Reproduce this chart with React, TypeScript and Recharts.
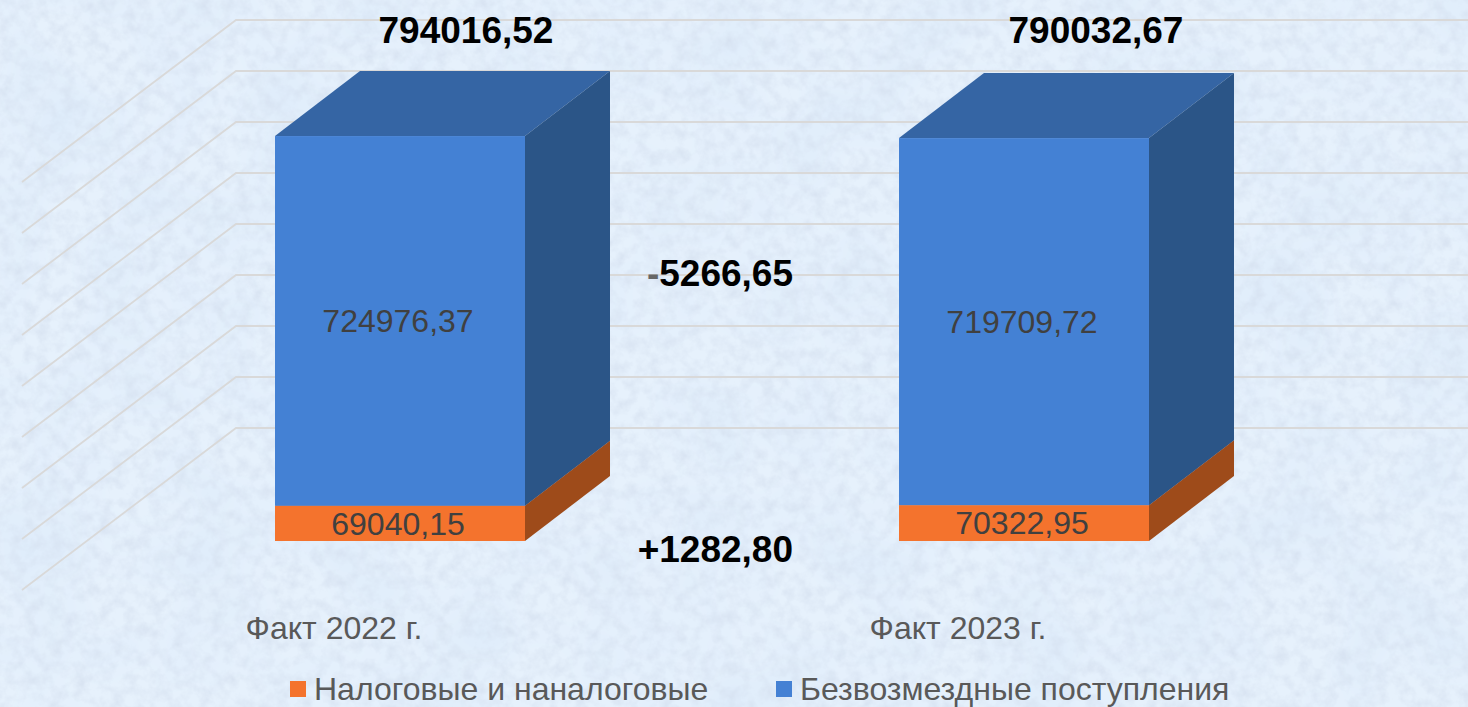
import { Bar, BarChart, CartesianGrid, Customized, LabelList, Legend, XAxis, YAxis } from 'recharts';

const categories = ['Факт 2022 г.', 'Факт 2023 г.'];
const taxRevenue = [69040.15, 70322.95];
const grants = [724976.37, 719709.72];
const totals = ['794016,52', '790032,67'];
const deltaGrants = '-5266,65';
const deltaTax = '+1282,80';
const yTicks = [0, 100000, 200000, 300000, 400000, 500000, 600000, 700000, 800000];
const seriesNames = ['Налоговые и наналоговые', 'Безвозмездные поступления'];

const rows = categories.map((name, i) => ({ name, tax: taxRevenue[i], grants: grants[i] }));

const W = 1468;
const H = 707;
const DEPTH_X = 85;
const DEPTH_Y = 65;

const fmt = (v: any) => Number(v).toFixed(2).replace('.', ',');

function box3d(front: string, top: string, side: string) {
  return (p: any) => {
    const { x, y, width, height } = p;
    const r = x + width;
    const b = y + height;
    return (
      <g>
        <polygon points={`${x},${y} ${x + DEPTH_X},${y - DEPTH_Y} ${r + DEPTH_X},${y - DEPTH_Y} ${r},${y}`} fill={top} />
        <polygon points={`${r},${y} ${r + DEPTH_X},${y - DEPTH_Y} ${r + DEPTH_X},${b - DEPTH_Y} ${r},${b}`} fill={side} />
        <rect x={x} y={y} width={width} height={height} fill={front} />
      </g>
    );
  };
}

// floor line + back wall line, taken from the grid's own tick position
function wallLine(p: any) {
  const y = p.y1;
  return (
    <polyline
      key={p.key ?? y}
      points={`22,${y + 49} 236,${y - 113} ${W},${y - 113}`}
      fill="none"
      stroke="#d9d9d9"
      strokeWidth={1.8}
    />
  );
}

function Notes() {
  const big = { fontSize: 37, fontWeight: 700, fill: '#000' };
  return (
    <g>
      <text x={466} y={43} textAnchor="middle" {...big}>{totals[0]}</text>
      <text x={1096} y={43} textAnchor="middle" {...big}>{totals[1]}</text>
      <text x={793} y={286} textAnchor="end" {...big}>
        <tspan fill="#666">{deltaGrants[0]}</tspan>
        {deltaGrants.slice(1)}
      </text>
      <text x={793} y={562} textAnchor="end" {...big}>{deltaTax}</text>
    </g>
  );
}

function LegendBox({ payload }: any) {
  const items = [...(payload ?? [])].sort((a: any, b: any) => seriesNames.indexOf(a.value) - seriesNames.indexOf(b.value));
  return (
    <div style={{ position: 'relative', width: W, height: 36 }}>
      {items.map((e: any, i: number) => (
        <div
          key={e.value}
          style={{ position: 'absolute', left: i === 0 ? 290 : 776, top: 0, height: 36, display: 'flex', alignItems: 'center', whiteSpace: 'nowrap' }}
        >
          <span style={{ width: 16, height: 16, background: e.color, marginRight: 8 }} />
          <span style={{ fontSize: 32, color: '#595959', lineHeight: '36px' }}>{e.value}</span>
        </div>
      ))}
    </div>
  );
}

export default function App() {
  return (
    <div style={{ position: 'fixed', left: 0, top: 0, width: W, height: H, overflow: 'hidden', fontFamily: '"Liberation Sans", Arial, sans-serif' }}>
      <svg width={W} height={H} style={{ position: 'absolute', left: 0, top: 0 }}>
        <filter id="paper" x="0" y="0" width="100%" height="100%">
          <feTurbulence type="fractalNoise" baseFrequency="0.08" numOctaves={4} seed={7} />
          <feColorMatrix values="0 0 0 0 0.66  0 0 0 0 0.74  0 0 0 0 0.86  1.4 0 0 0 -0.52" />
        </filter>
        <filter id="cloud" x="0" y="0" width="100%" height="100%">
          <feTurbulence type="fractalNoise" baseFrequency="0.012" numOctaves={2} seed={3} />
          <feColorMatrix values="0 0 0 0 0.72  0 0 0 0 0.83  0 0 0 0 0.96  1.5 0 0 0 -0.55" />
        </filter>
        <rect width={W} height={H} fill="#e6f1fc" />
        <rect width={W} height={H} filter="url(#cloud)" />
        <rect width={W} height={H} filter="url(#paper)" />
      </svg>
      <div style={{ position: 'absolute', left: 0, top: 0 }}>
        <BarChart width={W} height={H} data={rows} barSize={250} margin={{ top: 133, right: 132, bottom: 136, left: 88 }}>
          <CartesianGrid vertical={false} horizontal={wallLine} />
          <XAxis
            dataKey="name"
            height={30}
            axisLine={false}
            tickLine={false}
            tickMargin={69}
            interval={0}
            tick={{ fontSize: 32, fill: '#595959', dx: -66 }}
          />
          <YAxis hide domain={[0, 800000]} ticks={yTicks} />
          <Bar
            dataKey="tax"
            name={seriesNames[0]}
            stackId="a"
            fill="#f4732d"
            isAnimationActive={false}
            shape={box3d('#f4732d', '#f4732d', '#9e4b1a')}
          >
            <LabelList dataKey="tax" position="center" formatter={fmt} dx={-2} fontSize={32} fill="#404040" />
          </Bar>
          <Bar
            dataKey="grants"
            name={seriesNames[1]}
            stackId="a"
            fill="#4481d4"
            isAnimationActive={false}
            shape={box3d('#4481d4', '#3565a4', '#2b5587')}
          >
            <LabelList dataKey="grants" position="center" formatter={fmt} dx={-2} fontSize={32} fill="#404040" />
          </Bar>
          <Legend verticalAlign="middle" content={<LegendBox />} wrapperStyle={{ top: 671, left: 0, width: W }} />
          <Customized component={Notes} />
        </BarChart>
      </div>
    </div>
  );
}
